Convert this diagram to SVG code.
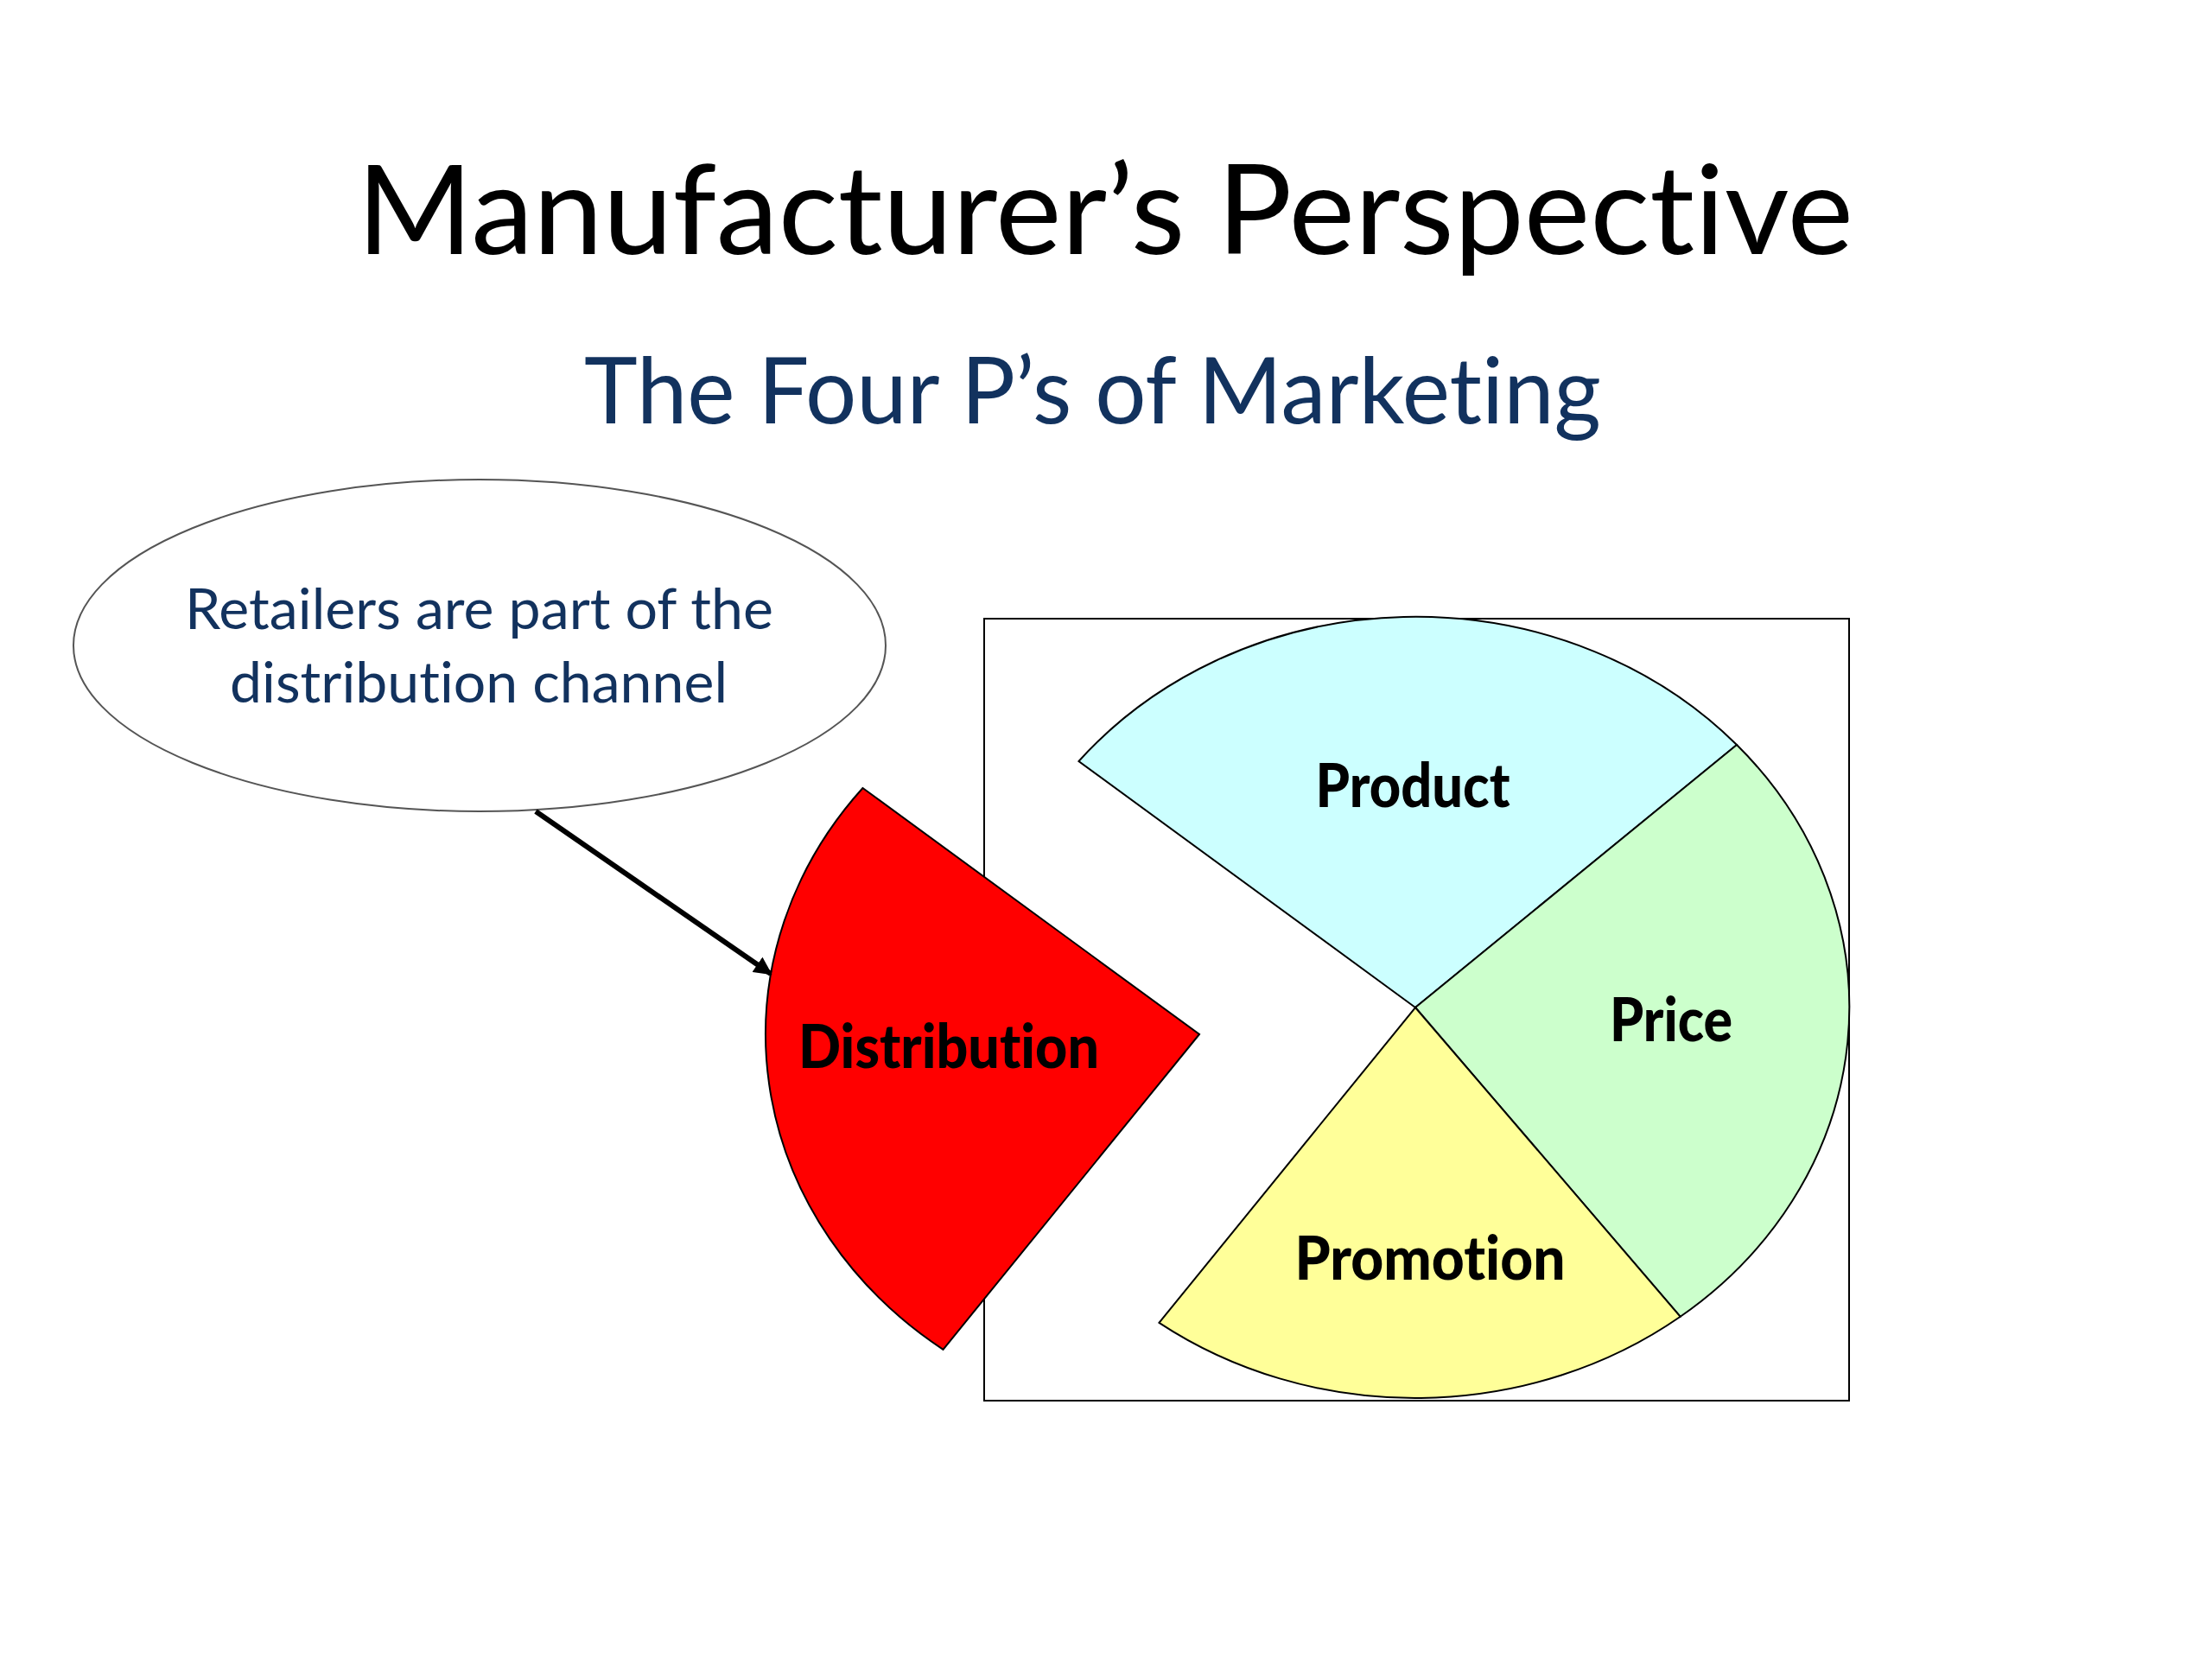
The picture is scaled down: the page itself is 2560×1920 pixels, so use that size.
<svg xmlns="http://www.w3.org/2000/svg" width="2560" height="1920" viewBox="0 0 2560 1920">
<style>
text{font-variant-ligatures:none;font-feature-settings:"liga" 0,"clig" 0}
.title{font-family:Lato,"Open Sans","Liberation Sans",sans-serif;fill:#000}
.sub{font-family:Lato,"Open Sans","Liberation Sans",sans-serif;fill:#12325E}
.lbl{font-family:Lato,"Open Sans","Liberation Sans",sans-serif;font-weight:900;font-size:70px;fill:#000;text-anchor:middle}
.slice{stroke:#000;stroke-width:2}
</style>
<defs>
<marker id="arr" viewBox="0 0 10 10" refX="9" refY="5" markerWidth="3.5" markerHeight="3.5" orient="auto" markerUnits="strokeWidth">
<path d="M0 0 L10 5 L0 10 Z" fill="#000"/>
</marker>
</defs>
<rect width="2560" height="1920" fill="#fff"/>
<text class="title" x="413" y="294" font-size="143" textLength="1732" lengthAdjust="spacingAndGlyphs">Manufacturer’s Perspective</text>
<text class="sub" x="676" y="490" font-size="106" textLength="1177" lengthAdjust="spacingAndGlyphs">The Four P’s of Marketing</text>
<g id="frame">
<rect x="1139" y="716" width="1001" height="905" fill="none" stroke="#000" stroke-width="2"/>
</g>
<g id="callout">
<ellipse cx="555" cy="747" rx="470" ry="192" fill="#fff" stroke="#555" stroke-width="2"/>
<text class="sub" x="214" y="728" font-size="65" textLength="681" lengthAdjust="spacingAndGlyphs">Retailers are part of the</text>
<text class="sub" x="266" y="813" font-size="65" textLength="576" lengthAdjust="spacingAndGlyphs">distribution channel</text>
</g>
<g id="product">
<path class="slice" fill="#CCFFFF" d="M1638 1166 L1248.5 881 A502 452 0 0 1 2010 862 Z"/>
<text class="lbl" x="1635" y="934" textLength="225" lengthAdjust="spacingAndGlyphs">Product</text>
</g>
<g id="price">
<path class="slice" fill="#CCFFCC" d="M1638 1166 L2010 862 A502 452 0 0 1 1944.7 1523.8 Z"/>
<text class="lbl" x="1934" y="1205" textLength="142" lengthAdjust="spacingAndGlyphs">Price</text>
</g>
<g id="promotion">
<path class="slice" fill="#FFFF99" d="M1638 1166 L1944.7 1523.8 A502 452 0 0 1 1341.5 1530.8 Z"/>
<text class="lbl" x="1655" y="1481" textLength="313" lengthAdjust="spacingAndGlyphs">Promotion</text>
</g>
<g id="distribution">
<path class="slice" fill="#FF0000" d="M1388 1197 L1091.5 1561.8 A502 452 0 0 1 998.5 912 Z"/>
<text class="lbl" x="1098" y="1236" textLength="348" lengthAdjust="spacingAndGlyphs">Distribution</text>
</g>
<g id="connectors">
<line x1="620" y1="939" x2="892" y2="1127" stroke="#000" stroke-width="6" marker-end="url(#arr)"/>
</g>
</svg>
